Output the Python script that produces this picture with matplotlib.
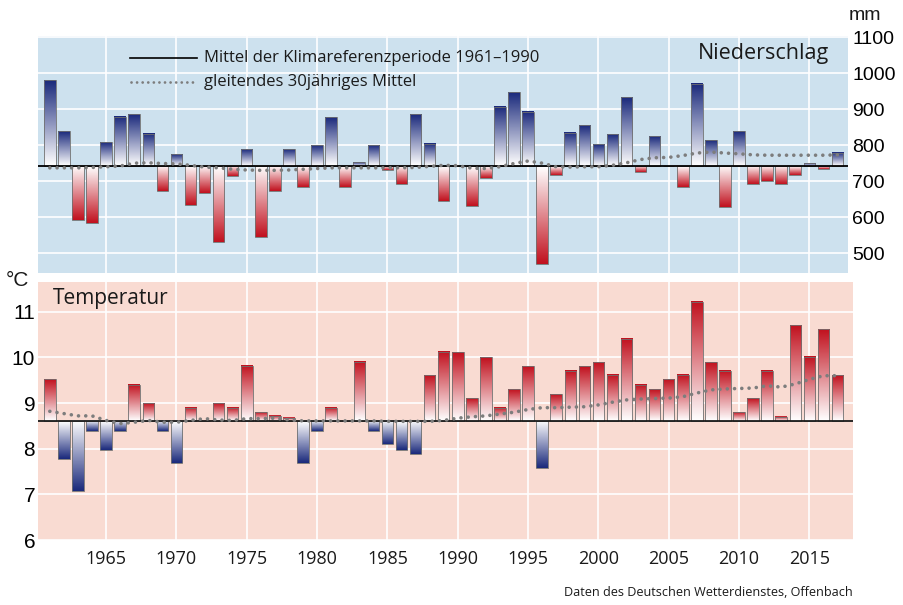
import numpy as np
import matplotlib
matplotlib.use('Agg')
import matplotlib.pyplot as plt
from matplotlib.colors import LinearSegmentedColormap

# ---------- data ----------
years = np.arange(1961, 2018)

niederschlag = [980, 839, 592, 584, 808, 879, 886, 831, 672, 774,
                633, 666, 531, 714, 788, 544, 672, 788, 684, 799,
                878, 684, 753, 800, 732, 691, 886, 804, 646, 742,
                631, 709, 906, 947, 893, 471, 718, 834, 855, 802,
                830, 933, 725, 825, 742, 684, 970, 814, 628, 839,
                691, 700, 692, 718, 750, 735, 779]
nied_mittel = [737, 737, 737, 738, 740, 742, 750, 751, 749, 748,
               744, 739, 737, 733, 731, 730, 730, 731, 733, 735,
               737, 737, 737, 737, 737, 737, 738, 741, 744, 743,
               736, 735, 740, 749, 756, 750, 740, 739, 740, 740,
               744, 751, 760, 765, 766, 771, 778, 781, 778, 776,
               773, 772, 772, 772, 772, 772, 773]
nied_ref = 742

temperatur = [9.53, 7.78, 7.07, 8.38, 7.98, 8.38, 9.40, 9.00, 8.38, 7.69,
              8.90, 8.61, 9.00, 8.90, 9.82, 8.80, 8.72, 8.68, 7.69, 8.38,
              8.90, 8.61, 9.91, 8.38, 8.10, 7.98, 7.88, 9.61, 10.13, 10.12,
              9.11, 10.00, 8.90, 9.31, 9.81, 7.57, 9.20, 9.71, 9.81, 9.90,
              9.62, 10.41, 9.40, 9.31, 9.53, 9.62, 11.22, 9.90, 9.71, 8.80,
              9.11, 9.71, 8.70, 10.71, 10.02, 10.62, 9.61]
temp_mittel = [8.82, 8.77, 8.72, 8.72, 8.62, 8.55, 8.58, 8.62, 8.58, 8.58,
               8.62, 8.66, 8.63, 8.62, 8.66, 8.66, 8.67, 8.63, 8.61, 8.61,
               8.61, 8.61, 8.61, 8.61, 8.60, 8.60, 8.60, 8.60, 8.62, 8.67,
               8.70, 8.72, 8.76, 8.80, 8.86, 8.90, 8.90, 8.91, 8.92, 8.96,
               9.02, 9.07, 9.09, 9.10, 9.11, 9.14, 9.22, 9.29, 9.31, 9.32,
               9.33, 9.38, 9.35, 9.42, 9.52, 9.60, 9.60]
temp_ref = 8.61

x_ticks = [1965, 1970, 1975, 1980, 1985, 1990, 1995, 2000, 2005, 2010, 2015]
nied_ticks = [500, 600, 700, 800, 900, 1000, 1100]
temp_ticks = [6, 7, 8, 9, 10, 11]

# ---------- style ----------
BLUE = '#1b2a7c'
RED = '#c1121f'
cm_blue = LinearSegmentedColormap.from_list('wb', ['#ffffff', BLUE])
cm_red = LinearSegmentedColormap.from_list('wr', ['#ffffff', RED])
TXT = 'Open Sans'
NUM = 'Liberation Sans'
grad = np.linspace(0, 1, 80).reshape(-1, 1)


def gradient_bars(ax, vals, ref, cm_up, cm_down, w=0.82):
    # each bar: white at the reference line, full colour at its end
    for yr, v in zip(years, vals):
        if abs(v - ref) < 1e-6:
            continue
        l = yr - w / 2
        if v > ref:
            ax.imshow(grad, cmap=cm_up, extent=(l, l + w, ref, v), origin='lower',
                      aspect='auto', interpolation='bilinear', zorder=2)
        else:
            ax.imshow(grad[::-1], cmap=cm_down, extent=(l, l + w, v, ref), origin='lower',
                      aspect='auto', interpolation='bilinear', zorder=2)
    ax.bar(years, np.array(vals) - ref, bottom=ref, width=w, fill=False,
           edgecolor='#707070', linewidth=0.6, zorder=3)


fig = plt.figure(figsize=(9.04, 6.05), dpi=100)
ax1 = fig.add_axes([38 / 904, 1 - 273 / 605, 810 / 904, 237 / 605])
ax2 = fig.add_axes([38 / 904, 1 - 540 / 605, 815 / 904, 258.3 / 605])

dot_style = dict(color='#7d7d7d', linewidth=2.6, linestyle=(0, (0.01, 2.0)),
                 dash_capstyle='round', zorder=5)

# ----- Niederschlag -----
ax1.set_facecolor('#cde1ee')
gradient_bars(ax1, niederschlag, nied_ref, cm_blue, cm_red)
ax1.axhline(nied_ref, color='black', linewidth=1.3, zorder=4)
ax1.plot(years, nied_mittel, **dot_style)
ax1.set_xlim(1960.16, 2017.75)
ax1.set_ylim(445, 1103)
ax1.set_xticks(x_ticks)
ax1.set_yticks(nied_ticks)
ax1.yaxis.tick_right()
ax1.tick_params(axis='both', length=0)
ax1.tick_params(axis='y', pad=3, labelsize=14)
ax1.set_xticklabels([])
for t in ax1.get_yticklabels():
    t.set_fontfamily(NUM)
ax1.grid(True, color='white', linewidth=1.2)
ax1.set_axisbelow(True)
for s in ax1.spines.values():
    s.set_visible(False)
ax1.text(0.977, 0.925, 'Niederschlag', transform=ax1.transAxes, ha='right', va='center',
         fontsize=15.5, family=TXT, color='#1a1a1a')

# ----- Temperatur -----
ax2.set_facecolor('#f9dbd2')
gradient_bars(ax2, temperatur, temp_ref, cm_red, cm_blue)
ax2.axhline(temp_ref, color='#1a1a1a', linewidth=1.3, zorder=4)
ax2.plot(years, temp_mittel, **dot_style)
ax2.set_xlim(1960.16, 2018.1)
ax2.set_ylim(6, 11.66)
ax2.set_xticks(x_ticks)
ax2.set_yticks(temp_ticks)
ax2.tick_params(axis='both', length=0)
ax2.tick_params(axis='y', pad=2, labelsize=15)
ax2.tick_params(axis='x', pad=7, labelsize=13)
for t in ax2.get_yticklabels():
    t.set_fontfamily(NUM)
for t in ax2.get_xticklabels():
    t.set_fontfamily(TXT)
    t.set_color('#1a1a1a')
ax2.grid(True, color='white', linewidth=1.2)
ax2.set_axisbelow(True)
for s in ax2.spines.values():
    s.set_visible(False)
ax2.text(15 / 815, 0.935, 'Temperatur', transform=ax2.transAxes, ha='left', va='center',
         fontsize=15, family=TXT, color='#1a1a1a')

# ----- legend (figure pixel positions) -----
px = lambda x, y: (x / 904, 1 - y / 605)
fig.add_artist(plt.Line2D([130 / 904, 197 / 904], [px(0, 57.5)[1]] * 2, color='black',
                          linewidth=1.2, transform=fig.transFigure))
fig.add_artist(plt.Line2D([131 / 904, 197 / 904], [px(0, 81.5)[1]] * 2, color='#7d7d7d',
                          linewidth=2.0, linestyle=(0, (0.01, 2.0)), dash_capstyle='round',
                          transform=fig.transFigure))
fig.text(*px(204, 57.5), 'Mittel der Klimareferenzperiode 1961–1990', ha='left', va='center',
         fontsize=12, family=TXT, color='#1a1a1a')
fig.text(*px(204, 81.5), 'gleitendes 30jähriges Mittel', ha='left', va='center',
         fontsize=12, family=TXT, color='#1a1a1a')

# units and source
fig.text(*px(849, 15), 'mm', ha='left', va='center', fontsize=14, family=NUM, color='#1a1a1a')
fig.text(*px(6, 281), '°C', ha='left', va='center', fontsize=15, family=NUM, color='#1a1a1a')
fig.text(*px(853, 593), 'Daten des Deutschen Wetterdienstes, Offenbach', ha='right', va='center',
         fontsize=9.1, family=TXT, color='#1a1a1a')

fig.savefig('out.png', dpi=100, facecolor='white')
